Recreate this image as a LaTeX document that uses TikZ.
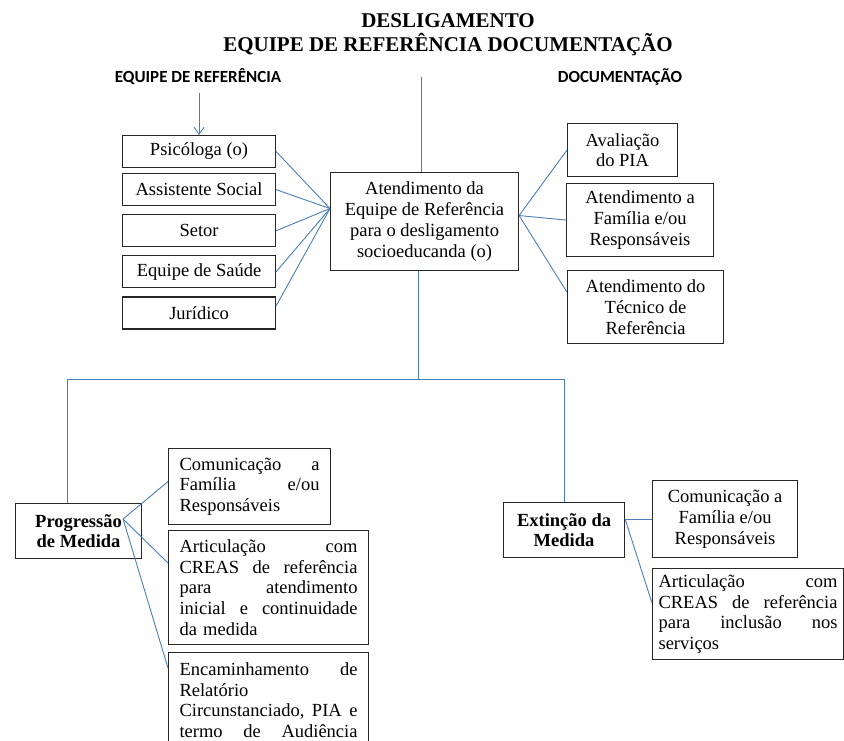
\documentclass[tikz,border=0pt]{standalone}
\usepackage{fontspec}
\setmainfont{Liberation Serif}
\newfontfamily\labelfont{Carlito}
\usetikzlibrary{arrows.meta, calc, positioning}
\definecolor{linkblue}{HTML}{4A7EBB}
\definecolor{boxline}{HTML}{262626}

\begin{document}
\begin{tikzpicture}[
        x=1pt, y=1pt,
        node distance=8pt and 20pt,
        box/.style={draw=boxline, line width=1.1pt, align=center, inner sep=0pt, font=\fontsize{18.5}{20.7}\selectfont},
        team/.style={box, minimum width=153pt, minimum height=32pt},
        just/.style={box, align=left, inner xsep=11pt, inner ysep=4pt},
        heading/.style={font=\labelfont\fontsize{17}{20}\selectfont\bfseries, anchor=base},
        link/.style={draw=linkblue, line width=0.9pt},
        >={Straight Barb[length=7pt, width=10pt]}
    ]
        \useasboundingbox (0,0) rectangle (844,-741);
        \clip (0,0) rectangle (844,-741);

        \node[font=\fontsize{21}{24}\selectfont\bfseries, align=center, anchor=base] (title) at (448,-52) {DESLIGAMENTO\\EQUIPE DE REFERÊNCIA DOCUMENTAÇÃO};
        \node[heading] (lblteam) at (198,-83) {EQUIPE DE REFERÊNCIA};
        \node[heading] (lbldoc) at (620,-83) {DOCUMENTAÇÃO};

        % equipe de referencia
        \node[team, anchor=north west] (psi) at (122,-135) {Psicóloga (o)};
        \node[team, below=5pt of psi] (soc) {Assistente Social};
        \node[team, below=of soc] (set) {Setor};
        \node[team, below=of set] (sau) {Equipe de Saúde};
        \node[team, below=of sau] (jur) {Jurídico};

        \node[box, minimum width=188pt, minimum height=98pt, anchor=north west] (ctr) at (330,-172) {Atendimento da\\Equipe de Referência\\para o desligamento\\socioeducanda (o)};

        % documentacao
        \node[box, minimum width=110pt, minimum height=53pt, anchor=north west] (pia) at (567,-123) {Avaliação\\do PIA};
        \node[box, minimum width=147pt, minimum height=73pt, anchor=north west] (fam) at (566,-183) {Atendimento a\\Família e/ou\\Responsáveis};
        \node[box, minimum width=156pt, minimum height=73pt, anchor=north west] (tec) at (567,-270) {Atendimento do\\Técnico de\\Referência};

        % progressao
        \node[box, font=\fontsize{18.5}{20.7}\selectfont\bfseries, minimum width=126pt, minimum height=55pt, anchor=north west] (prog) at (15,-503) {Progressão\\de Medida};
        \node[just, text width=140pt, minimum height=76pt, anchor=north west] (comL) at (168,-448) {Comunicação\hfill a\\Família\hfill e/ou\\Responsáveis};
        \node[just, text width=178pt, minimum height=114pt, anchor=north west] (artL) at (168,-530) {Articulação\hfill com\\CREAS\hfill de\hfill referência\\para\hfill atendimento\\inicial\hfill e\hfill continuidade\\da medida};
        \node[just, text width=178pt, inner ysep=10pt, anchor=north west] (encL) at (168,-652) {Encaminhamento\hfill de\\Relatório\\Circunstanciado,\hfill PIA\hfill e\\termo\hfill de\hfill Audiência};

        % extincao
        \node[box, font=\fontsize{18.5}{20.7}\selectfont\bfseries, minimum width=121pt, minimum height=55pt, anchor=north west] (ext) at (503,-502) {Extinção da\\Medida};
        \node[box, minimum width=145pt, minimum height=77pt, anchor=north west] (comR) at (652,-480) {Comunicação a\\Família e/ou\\Responsáveis};
        \node[just, text width=179pt, inner xsep=6pt, minimum height=91pt, anchor=north west] (artR) at (652,-568) {Articulação\hfill com\\CREAS\hfill de\hfill referência\\para\hfill inclusão\hfill nos\\serviços};

        \coordinate (hubL) at ($(ctr.west)+(0,13)$);
        \coordinate (hubR) at ($(ctr.east)+(0,6)$);
        \coordinate (progO) at ($(prog.east)+(-19,12)$);
        \coordinate (extO) at ($(ext.east)+(0,11)$);

        \draw[link, ->] ([yshift=42pt]psi.north) -- (psi.north);
        \draw[link] ([xshift=-3pt]ctr.north) -- ++(0,95);
        \foreach \n in {psi, soc, set, sau}
            \draw[link] (\n.east) -- (hubL);
        \draw[link] ($(jur.east)+(0,7)$) -- (hubL);
        \draw[link] (hubR) -- (pia.west);
        \draw[link] (hubR) -- (fam.west);
        \draw[link] (hubR) -- ($(tec.north west)!0.3!(tec.south west)$);

        \draw[link] ([xshift=-6pt]ctr.south) -- ++(0,-108) coordinate (busC);
        \draw[link] ([xshift=-11pt]prog.north) |- (ext.north |- busC) -- (ext.north);

        \draw[link] (progO) -- ($(comL.west)+(0,5)$);
        \draw[link] (progO) -- ($(artL.north west)+(0,-33)$);
        \draw[link] (progO) -- ($(encL.north west)+(0,-16)$);
        \draw[link] (extO) -- (comR.west);
        \draw[link] (extO) -- ($(artR.west)+(0,11)$);
    \end{tikzpicture}
\end{document}
